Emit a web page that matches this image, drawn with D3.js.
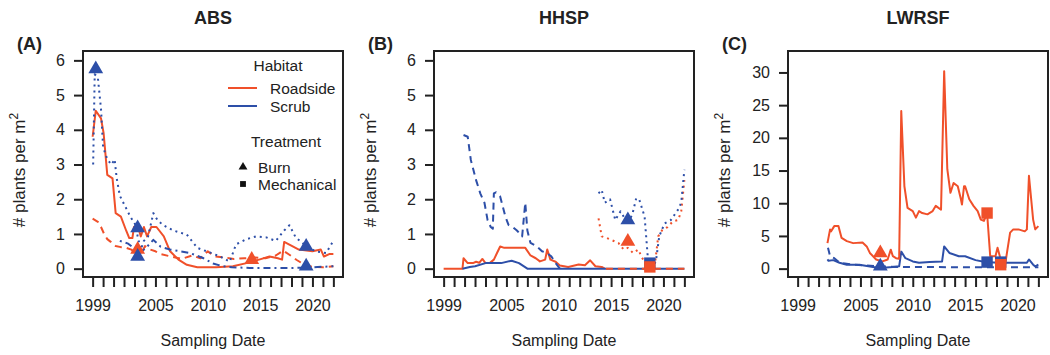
<!DOCTYPE html>
<html>
<head>
<meta charset="utf-8">
<script src="https://cdn.jsdelivr.net/npm/d3@7"></script>
<style>
  body { margin: 0; background: #fff; }
  text { font-family: "Liberation Sans", Arial, sans-serif; fill: #222; }
</style>
</head>
<body>
<script>
// year ticks shared by all panels
let years = d3.range(1999, 2023);
let yearLabels = [1999, 2005, 2010, 2015, 2020];

// ABS (values as [year, plants per m2])
let absRoadSolid = [[1999.0,3.8],[1999.3,4.55],[1999.8,4.33],[2000.05,3.9],[2000.4,2.7],[2000.9,2.6],[2001.2,1.6],[2001.7,1.5],[2002.2,1.1],[2002.5,0.88],[2002.8,0.88],[2002.95,1.2],[2003.3,1.25],[2003.6,0.93],[2003.9,1.2],[2004.2,0.93],[2004.6,1.2],[2005.1,1.2],[2005.8,0.93],[2006.4,0.5],[2007.2,0.26],[2008,0.11],[2009,0.04],[2010.8,0.04],[2012.4,0.07],[2013.7,0.16],[2014.9,0.26],[2015.9,0.35],[2016.7,0.3],[2017.1,0.26],[2017.3,0.77],[2017.8,0.69],[2018.7,0.55],[2020,0.5],[2020.8,0.55],[2021.1,0.35],[2021.6,0.42],[2022,0.42]];
let absRoadDash = [[1999,1.44],[1999.5,1.35],[1999.8,1.2],[2000.1,1.0],[2000.4,0.85],[2000.7,0.78],[2001.2,0.65],[2001.7,0.62],[2002.2,0.6],[2002.7,0.55],[2003,0.46],[2003.3,0.31],[2003.6,0.4],[2004,0.65],[2004.5,0.55],[2005,0.5],[2005.5,0.42],[2006.5,0.35],[2007.5,0.28],[2008.5,0.38],[2009.3,0.3],[2010,0.5],[2010.7,0.35],[2011.5,0.33],[2012.5,0.28],[2013.5,0.3],[2014.5,0.32],[2015.5,0.3],[2016.5,0.38],[2017.2,0.52],[2017.8,0.4],[2018.5,0.25],[2019.3,0.1],[2020,0.05],[2021,0.04],[2022,0.07]];
let absScrubDot = [[1999.05,3.0],[1999.2,5.6],[1999.5,5.5],[1999.8,4.6],[2000.0,3.5],[2000.4,3.15],[2000.8,3.0],[2001.1,3.15],[2001.3,2.6],[2001.6,2.1],[2002.1,1.8],[2002.6,1.5],[2003.1,1.26],[2003.3,0.93],[2003.6,0.55],[2003.9,0.8],[2004.3,0.93],[2004.8,1.6],[2005.2,1.4],[2005.7,1.26],[2006.7,1.1],[2008,0.98],[2009,0.6],[2009.9,0.5],[2011.2,0.35],[2012.1,0.2],[2012.7,0.7],[2013.7,0.85],[2014.6,0.93],[2015.6,0.9],[2016.5,0.8],[2017.3,1.1],[2017.8,1.25],[2018.4,0.9],[2019.4,0.65],[2020.3,0.5],[2021.3,0.45],[2022,0.8]];
let absScrubDashDot = [[2001.6,0.8],[2002.4,0.72],[2002.9,0.6],[2003.5,0.45],[2004.1,0.6],[2004.8,0.83],[2005.5,0.63],[2006.4,0.55],[2007.4,0.5],[2008.3,0.45],[2009.6,0.3],[2010.5,0.15],[2011.3,0.08],[2012.3,0.04],[2014,0.02],[2016,0.02],[2018,0.02],[2019.5,0.03],[2020.5,0.05],[2021.5,0.06],[2022,0.07]];
let absBurnRoad = [[2003.3,0.55],[2014.2,0.26]];
let absBurnScrub = [[1999.3,5.75],[2003.3,1.17],[2003.3,0.35],[2019.4,0.64],[2019.4,0.07]];

// HHSP
let hhspRoadSolid = [[1999,0],[2000.8,0],[2000.9,0.3],[2001.3,0.16],[2001.8,0.16],[2002.1,0.2],[2002.4,0.17],[2002.7,0.28],[2003,0.16],[2003.4,0.16],[2003.8,0.26],[2004.1,0.45],[2004.4,0.64],[2004.8,0.6],[2006.8,0.6],[2007.3,0.38],[2007.8,0.3],[2008.2,0.21],[2008.7,0.26],[2008.9,0.55],[2009.2,0.26],[2009.7,0.2],[2010.1,0.09],[2010.9,0.05],[2011.9,0.12],[2012.5,0.1],[2013,0.24],[2013.5,0.07],[2014.1,0.05],[2014.4,0]];
let hhspScrubSolid = [[2000.8,0],[2001.5,0.05],[2002,0.07],[2003,0.16],[2004.5,0.16],[2005.5,0.23],[2006.2,0.16],[2007,0],[2022,0]];
let hhspScrubDash = [[2000.9,3.85],[2001.3,3.8],[2001.6,3.13],[2002.1,2.55],[2002.5,2.17],[2002.9,1.9],[2003.2,1.4],[2003.5,1.2],[2003.7,1.15],[2003.8,2.17],[2004,2.2],[2004.4,2.08],[2004.9,1.5],[2005.2,1.26],[2005.6,1.2],[2006,1.1],[2006.5,0.93],[2006.8,1.9],[2007,1.1],[2007.3,0.74],[2007.9,0.64],[2008.4,0.5],[2008.9,0.45],[2009.3,0.35],[2009.7,0.16],[2010.1,0]];
let hhspRoadDash = [[2014.5,0],[2022,0]];
let hhspRoadDot = [[2013.8,1.45],[2014.1,0.93],[2014.6,0.88],[2015,0.83],[2015.7,0.74],[2016.2,0.55],[2016.6,0.6],[2017.1,0.45],[2017.6,0.55],[2017.9,0.35],[2018.4,0.07],[2018.7,0],[2019.2,0.16],[2019.5,0.93],[2019.9,1.12],[2020.4,1.2],[2020.9,1.36],[2021.4,1.4],[2021.7,1.65],[2022,2.55]];
let hhspScrubDot = [[2013.8,2.17],[2014.1,2.27],[2014.4,1.9],[2014.9,2.0],[2015.4,1.4],[2015.9,1.65],[2016.3,1.45],[2016.8,1.4],[2017.1,1.65],[2017.4,2.03],[2017.7,1.98],[2018.2,1.5],[2018.5,0.35],[2018.7,0],[2019,0],[2019.3,0.26],[2019.6,0.93],[2020.1,1.3],[2020.7,1.4],[2021.4,1.7],[2021.7,1.9],[2022,2.85]];
let hhspBurnRoad = [[2016.6,0.78]];
let hhspBurnScrub = [[2016.6,1.4]];
let hhspMechRoad = [[2018.7,0.05]];
let hhspMechScrub = [[2018.7,0.16]];

// LWRSF
let lwRoadSolid = [[2001.85,3.9],[2002.1,6.0],[2002.2,5.7],[2002.5,6.5],[2002.9,6.5],[2003.2,4.7],[2003.7,4.2],[2004.3,3.9],[2005.2,4.0],[2005.6,3.4],[2005.9,2.4],[2006.5,1.4],[2007.1,1.1],[2007.6,1.4],[2007.9,2.9],[2008.1,1.9],[2008.4,1.6],[2008.7,1.5],[2008.9,24.1],[2009.2,12.6],[2009.5,9.3],[2010,8.8],[2010.3,7.8],[2010.6,8.8],[2010.9,8.5],[2011.4,8.3],[2011.9,8.8],[2012.2,9.6],[2012.7,9.0],[2013,30.2],[2013.3,15.2],[2013.6,11.6],[2013.9,13.1],[2014.3,12.6],[2014.6,10.6],[2014.7,9.8],[2014.9,12.6],[2015,12.6],[2015.4,10.6],[2015.8,9.6],[2016.2,8.8],[2016.5,7.5],[2016.8,7.3],[2017.1,8.5],[2017.4,1.9],[2017.9,1.9],[2018.1,3.2],[2018.4,1.4],[2018.8,0.4],[2019.3,5.5],[2019.6,6.0],[2020.1,6.0],[2020.7,5.7],[2020.9,6.0],[2021.1,14.2],[2021.5,7.5],[2021.7,6.0],[2022,6.5]];
let lwScrubSolid = [[2001.85,1.4],[2001.95,1.2],[2002.4,1.3],[2003,0.9],[2003.7,0.6],[2004.9,0.6],[2006.2,0.25],[2006.8,0.1],[2008.1,0.25],[2008.7,0.35],[2008.9,2.6],[2009.3,1.6],[2010,1.1],[2010.6,0.9],[2011.6,1.0],[2012.8,1.1],[2013,3.4],[2013.5,2.4],[2014.4,1.9],[2015,1.9],[2016,1.3],[2016.9,1.0],[2018.2,0.9],[2019.8,0.9],[2020.9,0.9],[2021.1,1.4],[2021.5,0.6],[2021.7,0.35],[2022,0.6]];
let lwScrubDash = [[2001.9,3.2],[2002.1,1.9],[2002.5,1.6],[2003,0.9],[2004.3,0.6],[2005.6,0.5],[2006.8,0.35],[2008.7,0.25],[2010.3,0.25],[2014,0.22],[2018,0.2],[2022,0.2]];
let lwBurnRoad = [[2006.9,2.4]];
let lwBurnScrub = [[2006.9,0.35]];
let lwMechRoad = [[2017.1,8.5],[2018.4,0.6]];
let lwMechScrub = [[2017.1,1.0],[2018.4,1.0]];

let red = '#f0502a';
let blue = '#2d4fa8';
let dashes = { solid: null, dash: '7,5', dot: '2,4', dashdot: '2,4,7,4' };

let panels = [
  { title: 'ABS', tag: '(A)', left: 83, ymax: 6.27, ymin: -0.24, yticks: [0,1,2,3,4,5,6],
    lines: [[absRoadSolid, red, 'solid'], [absRoadDash, red, 'dash'], [absScrubDashDot, blue, 'dashdot'], [absScrubDot, blue, 'dot']],
    marks: [[absBurnRoad, red, 'tri'], [absBurnScrub, blue, 'tri']], legend: true },
  { title: 'HHSP', tag: '(B)', left: 434, ymax: 6.27, ymin: -0.24, yticks: [0,1,2,3,4,5,6],
    lines: [[hhspRoadSolid, red, 'solid'], [hhspScrubSolid, blue, 'solid'], [hhspRoadDash, red, 'dash'], [hhspScrubDash, blue, 'dash'], [hhspRoadDot, red, 'dot'], [hhspScrubDot, blue, 'dot']],
    marks: [[hhspBurnRoad, red, 'tri'], [hhspBurnScrub, blue, 'tri'], [hhspMechScrub, blue, 'sq'], [hhspMechRoad, red, 'sq']] },
  { title: 'LWRSF', tag: '(C)', left: 788, ymax: 33.28, ymin: -1.28, yticks: [0,5,10,15,20,25,30],
    lines: [[lwScrubDash, blue, 'dash'], [lwScrubSolid, blue, 'solid'], [lwRoadSolid, red, 'solid']],
    marks: [[lwBurnRoad, red, 'tri'], [lwBurnScrub, blue, 'tri'], [lwMechScrub, blue, 'sq'], [lwMechRoad, red, 'sq']] }
];

let W = 260, plotTop = 51, plotBottom = 277;

let svg = d3.select('body').append('svg')
  .attr('width', 1050)
  .attr('height', 355);

panels.forEach(function(p) {
  let g = svg.append('g').attr('transform', 'translate(' + p.left + ',0)');

  let x = d3.scaleLinear().domain([1998.08, 2022.92]).range([0, W]);
  let y = d3.scaleLinear().domain([p.ymin, p.ymax]).range([plotBottom, plotTop]);

  // axes
  let xAxis = d3.axisBottom(x).tickValues(years).tickSize(10).tickPadding(13)
    .tickFormat(function(d) { return yearLabels.indexOf(d) >= 0 ? d : ''; });
  let yAxis = d3.axisLeft(y).tickValues(p.yticks).tickSize(9).tickPadding(9)
    .tickFormat(d3.format('d'));

  let gx = g.append('g').attr('transform', 'translate(0,' + plotBottom + ')').call(xAxis);
  let gy = g.append('g').call(yAxis);
  [gx, gy].forEach(function(a) {
    a.select('.domain').remove();
    a.selectAll('line').attr('stroke', '#222').attr('stroke-width', 2);
    a.selectAll('text').style('font-size', '16px').attr('fill', '#222');
  });

  // lines
  let line = d3.line().x(function(d) { return x(d[0]); }).y(function(d) { return y(d[1]); });
  p.lines.forEach(function(l) {
    g.append('path')
      .attr('d', line(l[0]))
      .attr('fill', 'none')
      .attr('stroke', l[1])
      .attr('stroke-width', 2)
      .attr('stroke-linejoin', 'round')
      .attr('stroke-dasharray', dashes[l[2]]);
  });

  // treatment markers
  p.marks.forEach(function(m) {
    let sym = d3.symbol().type(m[2] === 'tri' ? d3.symbolTriangle : d3.symbolSquare).size(m[2] === 'tri' ? 95 : 130);
    g.selectAll(null).data(m[0]).enter().append('path')
      .attr('d', sym)
      .attr('transform', function(d) { return 'translate(' + x(d[0]) + ',' + y(d[1]) + ')'; })
      .attr('fill', m[1]);
  });

  // box
  g.append('rect').attr('x', 0).attr('y', plotTop).attr('width', W).attr('height', plotBottom - plotTop)
    .attr('fill', 'none').attr('stroke', '#222').attr('stroke-width', 2);

  // titles and labels
  g.append('text').attr('x', W / 2).attr('y', 24).attr('text-anchor', 'middle')
    .style('font-size', '18px').style('font-weight', 'bold').text(p.title);
  g.append('text').attr('x', -66).attr('y', 50)
    .style('font-size', '18px').style('font-weight', 'bold').text(p.tag);
  g.append('text').attr('x', W / 2).attr('y', 346).attr('text-anchor', 'middle')
    .style('font-size', '16px').text('Sampling Date');
  let yl = g.append('text').attr('transform', 'translate(-58,170) rotate(-90)')
    .attr('text-anchor', 'middle').style('font-size', '17px');
  yl.append('tspan').text('# plants per m');
  yl.append('tspan').attr('dy', -7).style('font-size', '12px').text('2');

  if (p.legend) {
    let lg = g.append('g');
    lg.append('text').attr('x', 195).attr('y', 71).attr('text-anchor', 'middle').style('font-size', '15.5px').text('Habitat');
    [['Roadside', red, 88], ['Scrub', blue, 106]].forEach(function(h) {
      lg.append('line').attr('x1', 145).attr('x2', 174).attr('y1', h[2]).attr('y2', h[2])
        .attr('stroke', h[1]).attr('stroke-width', 2);
      lg.append('text').attr('x', 187).attr('y', h[2] + 6).style('font-size', '15.5px').text(h[0]);
    });
    lg.append('text').attr('x', 203).attr('y', 147).attr('text-anchor', 'middle').style('font-size', '15.5px').text('Treatment');
    [['Burn', d3.symbolTriangle, 167], ['Mechanical', d3.symbolSquare, 184]].forEach(function(t) {
      lg.append('path').attr('d', d3.symbol().type(t[1]).size(34))
        .attr('transform', 'translate(160,' + t[2] + ')').attr('fill', '#111');
      lg.append('text').attr('x', 175).attr('y', t[2] + 6).style('font-size', '15.5px').text(t[0]);
    });
  }
});
</script>
</body>
</html>
